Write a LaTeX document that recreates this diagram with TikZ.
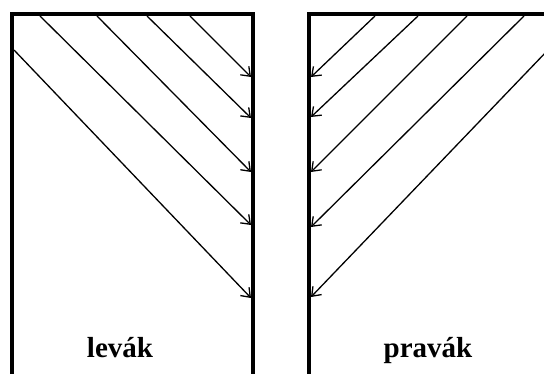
\documentclass[tikz,border=0pt]{standalone}
\usepackage{fontspec}
\setmainfont{Liberation Serif}
\usetikzlibrary{arrows.meta}

\begin{document}
\begin{tikzpicture}[x=1pt, y=-1pt,
    wall/.style={line width=4.5pt, line join=miter},
    ray/.style={line width=1.3pt, -{Straight Barb[length=8pt, width=12pt, line width=1.3pt]}},
    lbl/.style={font=\fontsize{29}{34}\selectfont\bfseries, anchor=base}]
      \useasboundingbox (0,0) rectangle (544,374);
      \clip (0,0) rectangle (544,374);
      % levak
      \draw[wall] (12,380) -- (12,14) -- (253,14) -- (253,380);
      \foreach \x/\y/\e in {14/50/298, 40/16/225, 97/16/172, 147/16/118, 190/16/77}
        \draw[ray] (\x,\y) -- (251,\e);
      \node[lbl] (levak) at (120,358) {levák};
      % pravak
      \draw[wall] (309,380) -- (309,14) -- (560,14);
      \foreach \x/\y/\e in {548/50/297, 524/16/227, 467/16/172, 418/16/117, 375/16/77}
        \draw[ray] (\x,\y) -- (311,\e);
      \node[lbl] (pravak) at (428,358) {pravák};
\end{tikzpicture}
\end{document}
